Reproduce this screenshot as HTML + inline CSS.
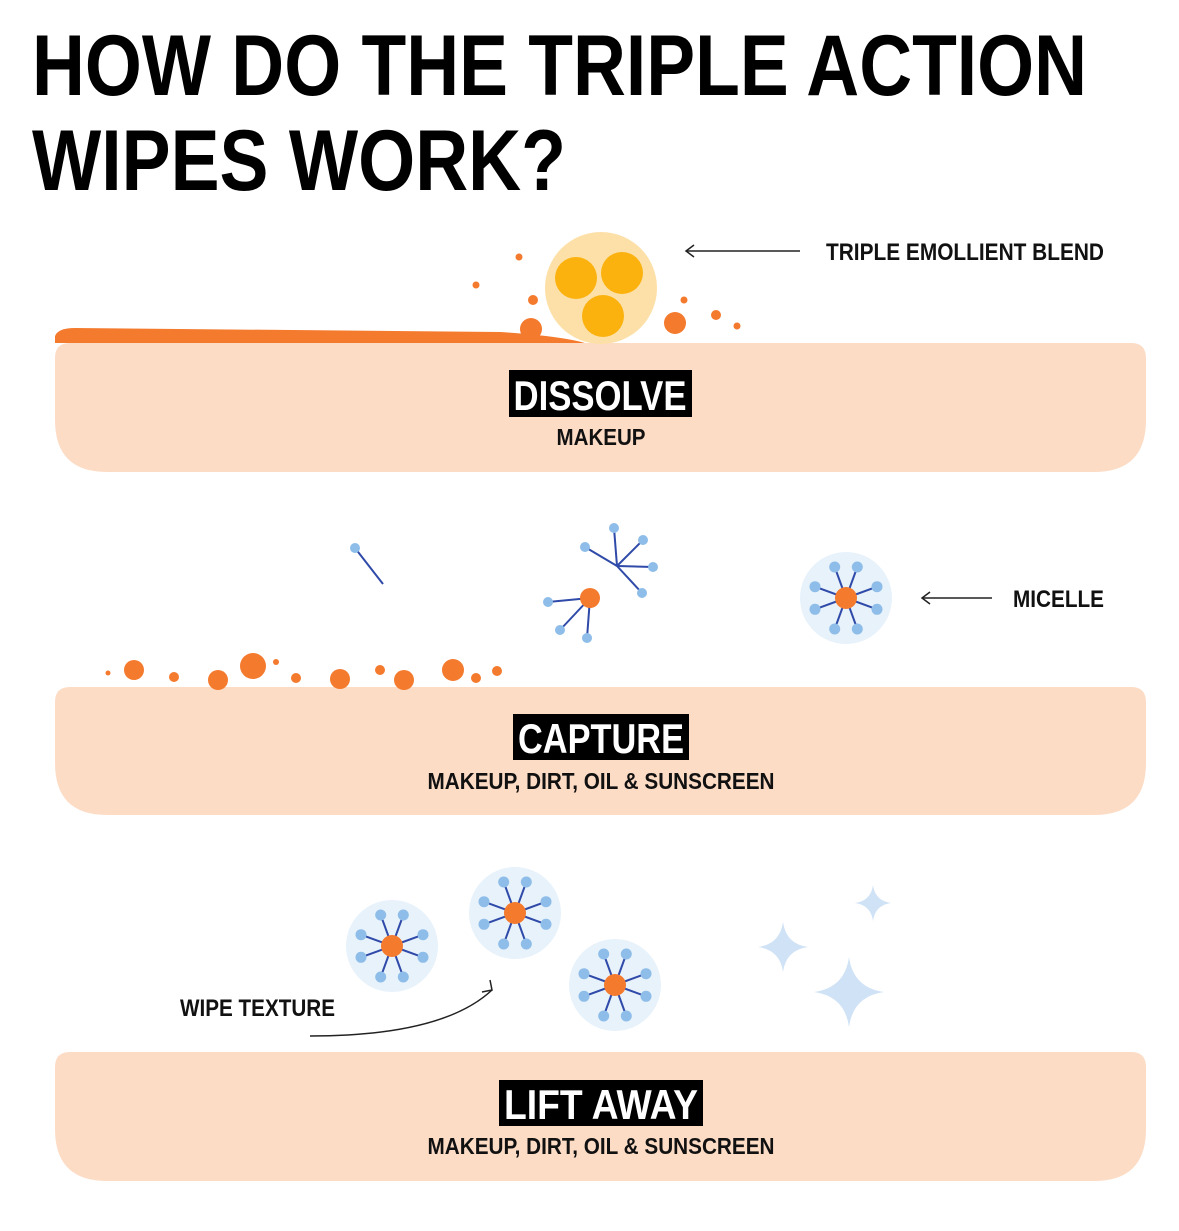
<!DOCTYPE html>
<html><head><meta charset="utf-8"><style>
html,body{margin:0;padding:0;background:#fff;}
svg{display:block;}
</style></head><body>
<svg width="1179" height="1231" viewBox="0 0 1179 1231" xmlns="http://www.w3.org/2000/svg">
<defs>
<g id="m">
<circle r="46" fill="#e8f2fb"/>
<g stroke="#2f4aa8" stroke-width="2">
<line x1="0" y1="0" x2="11.3" y2="-31"/><line x1="0" y1="0" x2="-11.3" y2="-31"/>
<line x1="0" y1="0" x2="31" y2="-11.3"/><line x1="0" y1="0" x2="-31" y2="-11.3"/>
<line x1="0" y1="0" x2="31" y2="11.3"/><line x1="0" y1="0" x2="-31" y2="11.3"/>
<line x1="0" y1="0" x2="11.3" y2="31"/><line x1="0" y1="0" x2="-11.3" y2="31"/>
</g>
<g fill="#8dbde8">
<circle cx="11.3" cy="-31" r="5.5"/><circle cx="-11.3" cy="-31" r="5.5"/>
<circle cx="31" cy="-11.3" r="5.5"/><circle cx="-31" cy="-11.3" r="5.5"/>
<circle cx="31" cy="11.3" r="5.5"/><circle cx="-31" cy="11.3" r="5.5"/>
<circle cx="11.3" cy="31" r="5.5"/><circle cx="-11.3" cy="31" r="5.5"/>
</g>
<circle r="11" fill="#f47a2e"/>
</g>
<path id="sp" d="M0,-1 Q0.12,-0.12 1,0 Q0.12,0.12 0,1 Q-0.12,0.12 -1,0 Q-0.12,-0.12 0,-1Z" fill="#cfe2f6"/>
</defs>

<g font-family="'Liberation Sans Narrow','Liberation Sans',sans-serif" font-weight="bold">
<text x="32" y="95" font-size="86" textLength="1055" lengthAdjust="spacingAndGlyphs">HOW DO THE TRIPLE ACTION</text>
<text x="32" y="190" font-size="86" textLength="534" lengthAdjust="spacingAndGlyphs">WIPES WORK?</text>
</g>

<!-- bands -->
<path d="M70,343 H1131 Q1146,343 1146,358 V420 Q1146,472 1094,472 H107 Q55,472 55,420 V358 Q55,343 70,343Z" fill="#fddcc6"/>
<path d="M70,687 H1131 Q1146,687 1146,702 V763 Q1146,815 1094,815 H107 Q55,815 55,763 V702 Q55,687 70,687Z" fill="#fddcc6"/>
<path d="M70,1052 H1131 Q1146,1052 1146,1067 V1129 Q1146,1181 1094,1181 H107 Q55,1181 55,1129 V1067 Q55,1052 70,1052Z" fill="#fddcc6"/>

<!-- step1 -->
<path d="M55,343 V336 Q58,328 75,328 L500,332 Q560,336 585,343Z" fill="#f47a2e"/>
<circle cx="601" cy="288" r="56" fill="#fde0a8"/>
<circle cx="576" cy="278" r="21" fill="#fbb20e"/>
<circle cx="622" cy="273" r="21" fill="#fbb20e"/>
<circle cx="603" cy="316" r="21" fill="#fbb20e"/>
<g fill="#f47a2e">
<circle cx="519" cy="257" r="3.5"/><circle cx="476" cy="285" r="3.5"/><circle cx="533" cy="300" r="5"/>
<circle cx="531" cy="329" r="11"/><circle cx="684" cy="300" r="3.5"/><circle cx="675" cy="323" r="11"/>
<circle cx="716" cy="315" r="5"/><circle cx="737" cy="326" r="3.5"/>
</g>
<g stroke="#222" stroke-width="1.5" fill="none"><line x1="686" y1="251" x2="800" y2="251"/><polyline points="694,245 686,251 694,257"/></g>
<g font-family="'Liberation Sans Narrow','Liberation Sans',sans-serif" font-weight="bold" fill="#111" font-size="24">
<text x="826" y="260" textLength="278" lengthAdjust="spacingAndGlyphs">TRIPLE EMOLLIENT BLEND</text>
<text x="1013" y="607" textLength="91" lengthAdjust="spacingAndGlyphs">MICELLE</text>
<text x="180" y="1016" textLength="155" lengthAdjust="spacingAndGlyphs">WIPE TEXTURE</text>
<text x="601" y="445" text-anchor="middle" font-size="23" textLength="89" lengthAdjust="spacingAndGlyphs">MAKEUP</text>
<text x="601" y="789" text-anchor="middle" font-size="23" textLength="347" lengthAdjust="spacingAndGlyphs">MAKEUP, DIRT, OIL &amp; SUNSCREEN</text>
<text x="601" y="1154" text-anchor="middle" font-size="23" textLength="347" lengthAdjust="spacingAndGlyphs">MAKEUP, DIRT, OIL &amp; SUNSCREEN</text>
</g>
<rect x="509" y="370" width="183" height="47" fill="#000"/>
<rect x="513" y="714" width="176" height="46" fill="#000"/>
<rect x="499" y="1080" width="204" height="46" fill="#000"/>
<g font-family="'Liberation Sans Narrow','Liberation Sans',sans-serif" font-weight="bold" fill="#fff" font-size="42">
<text x="600" y="410" text-anchor="middle" textLength="173" lengthAdjust="spacingAndGlyphs">DISSOLVE</text>
<text x="601" y="753" text-anchor="middle" textLength="166" lengthAdjust="spacingAndGlyphs">CAPTURE</text>
<text x="601" y="1119" text-anchor="middle" textLength="194" lengthAdjust="spacingAndGlyphs">LIFT AWAY</text>
</g>

<!-- step2 -->
<g stroke="#2f4aa8" stroke-width="2">
<line x1="355" y1="548" x2="383" y2="584"/>
<line x1="617" y1="566" x2="614" y2="528"/><line x1="617" y1="566" x2="585" y2="547"/>
<line x1="617" y1="566" x2="643" y2="540"/><line x1="617" y1="566" x2="653" y2="567"/><line x1="617" y1="566" x2="642" y2="593"/>
<line x1="590" y1="598" x2="548" y2="602"/><line x1="590" y1="598" x2="560" y2="630"/><line x1="590" y1="598" x2="587" y2="638"/>
</g>
<g fill="#8dbde8">
<circle cx="355" cy="548" r="5"/>
<circle cx="614" cy="528" r="5"/><circle cx="585" cy="547" r="5"/><circle cx="643" cy="540" r="5"/><circle cx="653" cy="567" r="5"/><circle cx="642" cy="593" r="5"/>
<circle cx="548" cy="602" r="5"/><circle cx="560" cy="630" r="5"/><circle cx="587" cy="638" r="5"/>
</g>
<circle cx="590" cy="598" r="10" fill="#f47a2e"/>
<use href="#m" x="846" y="598"/>
<g stroke="#222" stroke-width="1.5" fill="none"><line x1="922" y1="598" x2="992" y2="598"/><polyline points="930,592 922,598 930,604"/></g>
<g fill="#f47a2e">
<circle cx="108" cy="673" r="2.5"/><circle cx="134" cy="670" r="10"/><circle cx="174" cy="677" r="5"/>
<circle cx="218" cy="680" r="10"/><circle cx="253" cy="666" r="13"/><circle cx="276" cy="662" r="3"/>
<circle cx="296" cy="678" r="5"/><circle cx="340" cy="679" r="10"/><circle cx="380" cy="670" r="5"/>
<circle cx="404" cy="680" r="10"/><circle cx="453" cy="670" r="11"/><circle cx="476" cy="678" r="5"/><circle cx="497" cy="671" r="5"/>
</g>

<!-- step3 -->
<use href="#m" x="392" y="946"/>
<use href="#m" x="515" y="913"/>
<use href="#m" x="615" y="985"/>
<use href="#sp" transform="translate(783,947) scale(25)"/>
<use href="#sp" transform="translate(849,992) scale(35)"/>
<use href="#sp" transform="translate(873,903) scale(18)"/>
<g stroke="#222" stroke-width="1.5" fill="none"><path d="M310,1036 C400,1036 460,1020 492,990"/><polyline points="482,992 492,990 490,980"/></g>
</svg>
</body></html>
